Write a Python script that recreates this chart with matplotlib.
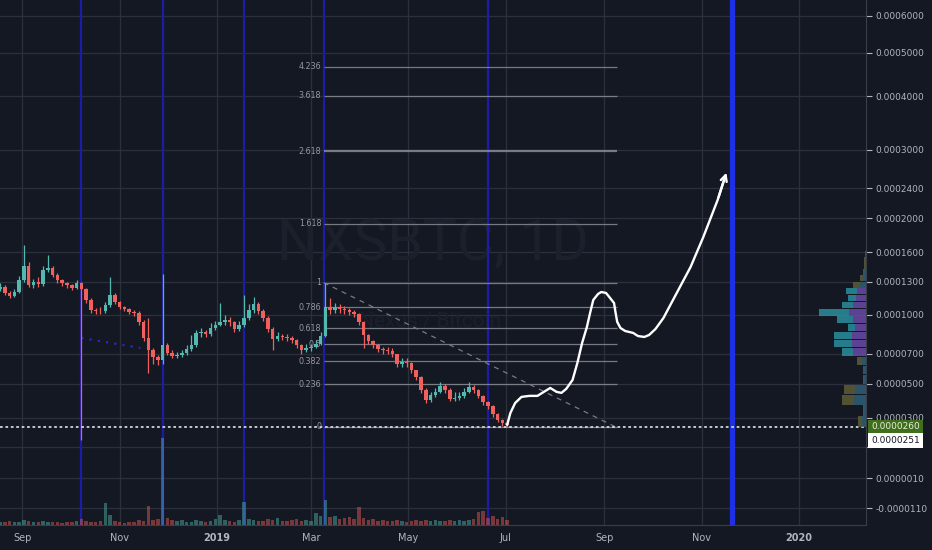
import numpy as np
import pandas as pd
import matplotlib
matplotlib.use('Agg')
import matplotlib.pyplot as plt
import matplotlib.dates as mdates
import matplotlib.transforms as mtrans
from matplotlib.ticker import FixedLocator, FuncFormatter

plt.rcParams['font.family'] = 'DejaVu Sans'

# ---- data (prices in satoshi, 3-day bars) ----
candle_start = '2018-08-18'
first_open = 12300
closes = [12490, 11930, 11660, 12030, 13160, 14560, 12680, 12970, 12780, 14150,
          14350, 13650, 13160, 12870, 12680, 12400, 12870, 12300, 11300, 10420,
          10340, 10300, 10860, 11750, 11120, 10680, 10510, 10250, 10170, 9430,
          8160, 7270, 6780, 6560, 7640, 7060, 6850, 6920, 7060, 7340,
          7640, 8550, 8600, 8470, 8940, 9180, 9430, 9590, 9430, 8860,
          9180, 9750, 10420, 10950, 10340, 9750, 8860, 8080, 8310, 8240,
          8160, 8010, 7640, 7270, 7420, 7490, 7710, 8310, 10680, 10420,
          10680, 10510, 10420, 10250, 10080, 9430, 8390, 7940, 7640, 7340,
          7270, 7200, 6990, 6290, 6420, 6360, 5890, 5430, 4610, 4010,
          4310, 4490, 4860, 4610, 4070, 4130, 4250, 4490, 4800, 4610,
          4250, 3900, 3660, 3210, 2880, 2720, 2620]
highs = [12900, 12700, 12100, 12300, 13500, 16800, 15000, 13300, 13400, 14600,
         15700, 14600, 13800, 13300, 13000, 12800, 13200, 13000, 12400, 11500,
         10600, 10700, 11100, 13400, 11900, 11200, 10800, 10600, 10400, 10300,
         9600, 9750, 7400, 6900, 13700, 7800, 7300, 7100, 7300, 7600,
         8400, 8800, 8900, 8800, 9300, 9500, 11000, 10000, 9800, 9500,
         9500, 11750, 10900, 11600, 11100, 10500, 9900, 9000, 8600, 8500,
         8500, 8300, 8100, 7700, 7700, 7700, 8000, 8600, 12900, 11500,
         11000, 10900, 10800, 10600, 10400, 10200, 9500, 8500, 8000, 7700,
         7500, 7500, 7400, 7000, 6700, 6700, 6400, 5900, 5500, 4700,
         4500, 4700, 5100, 4950, 4700, 4500, 4500, 4700, 5100, 4900,
         4650, 4300, 3950, 3700, 3250, 2950, 2800]
lows = [12100, 11750, 11500, 11550, 11900, 13000, 12500, 12400, 12500, 12600,
        13900, 13400, 12900, 12600, 12400, 12200, 12300, 1850, 11000, 10200,
        10100, 10100, 10200, 10700, 10900, 10500, 10300, 10100, 9900, 9200,
        7900, 5700, 6300, 6200, 6300, 6900, 6700, 6700, 6800, 6900,
        7200, 7500, 8200, 8200, 8300, 8800, 9100, 9200, 9100, 8600,
        8700, 9000, 9600, 10200, 10100, 9500, 8600, 7300, 7900, 8000,
        7900, 7800, 7400, 7000, 7100, 7200, 7400, 7600, 8200, 10100,
        10200, 10200, 10100, 10000, 9800, 9200, 7400, 7700, 7400, 7100,
        7000, 7000, 6800, 6100, 6100, 6100, 5700, 5200, 4400, 3850,
        3900, 4200, 4400, 4400, 3950, 3950, 4000, 4150, 4400, 4400,
        4100, 3700, 3500, 3050, 2750, 2550, 2510]
volumes = [0.3, 0.3, 0.4, 0.3, 0.3, 0.5, 0.4, 0.3, 0.3, 0.4,
           0.3, 0.3, 0.3, 0.2, 0.3, 0.3, 0.4, 0.6, 0.4, 0.3,
           0.3, 0.4, 2.1, 1.0, 0.4, 0.3, 0.2, 0.3, 0.3, 0.5,
           0.4, 1.8, 0.5, 0.6, 8.3, 0.7, 0.5, 0.4, 0.5, 0.3,
           0.3, 0.5, 0.4, 0.3, 0.4, 0.6, 1.0, 0.5, 0.4, 0.3,
           0.5, 2.2, 0.6, 0.5, 0.4, 0.4, 0.6, 0.5, 0.7, 0.4,
           0.4, 0.5, 0.6, 0.4, 0.5, 0.4, 1.1, 0.9, 2.4, 0.8,
           0.9, 0.6, 0.7, 0.8, 0.6, 1.7, 0.7, 0.5, 0.6, 0.4,
           0.5, 0.4, 0.4, 0.5, 0.4, 0.3, 0.4, 0.5, 0.4, 0.5,
           0.4, 0.5, 0.4, 0.4, 0.5, 0.4, 0.5, 0.4, 0.5, 0.6,
           1.2, 1.3, 0.7, 0.9, 0.6, 0.8, 0.5]

# volume profile rows (price centre in sats, volume near axis / further out)
vp_price = [2790, 3410, 4030, 4650, 5270, 5890, 6510, 7130, 7750, 8370, 8990,
            9610, 10230, 10850, 11470, 12090, 12710, 13330, 13950, 14570, 15190, 15810]
vp_inner = [4, 2, 12, 11, 2, 2, 4, 13, 14, 14, 11, 13, 17, 13, 10, 9, 6, 3, 2, 1, 1, 1]
vp_outer = [4, 1, 12, 11, 1, 1, 5, 11, 18, 18, 7, 16, 30, 11, 8, 11, 7, 3, 1, 1, 1, 0]
vp_value_area = (7130, 12090)

# drawings
fib_high, fib_low = 12900, 2510
fib_levels = [0, 0.236, 0.382, 0.5, 0.618, 0.786, 1, 1.618, 2.618, 3.618, 4.236]
fib_dates = ('2019-03-09', '2019-09-09')
trend_dates = ('2019-03-09', '2019-09-08')
cycle_lines = ['2018-10-08', '2018-11-28', '2019-01-18', '2019-03-09', '2019-06-20']
cycle_line_bold = '2019-11-20'
small_line_dates = ('2018-10-08', '2018-11-14')
small_line_prices = (8160, 7420)
proj_dates = ['2019-07-02', '2019-07-04', '2019-07-07', '2019-07-11', '2019-07-16',
              '2019-07-21', '2019-07-25', '2019-07-29', '2019-08-02', '2019-08-05',
              '2019-08-08', '2019-08-12', '2019-08-15', '2019-08-18', '2019-08-21',
              '2019-08-23', '2019-08-25', '2019-08-28', '2019-08-30', '2019-09-02',
              '2019-09-04', '2019-09-07', '2019-09-08', '2019-09-09', '2019-09-11',
              '2019-09-14', '2019-09-19', '2019-09-22', '2019-09-26', '2019-09-29',
              '2019-10-03', '2019-10-08', '2019-10-14', '2019-10-25', '2019-11-02',
              '2019-11-11', '2019-11-15', '2019-11-17']
proj_prices = [2620, 3260, 3830, 4190, 4250, 4250, 4490, 4730, 4490, 4430,
               4670, 5230, 6350, 7790, 9020, 10170, 11300, 11840, 12020, 11930,
               11570, 11030, 10170, 9430, 8940, 8700, 8550, 8310, 8240, 8390,
               8860, 9750, 11300, 14450, 17730, 22390, 25210, 26710]
last_price, prev_price = 2600, 2510

price_ticks = [0.0006, 0.0005, 0.0004, 0.0003, 0.00024, 0.0002, 0.00016, 0.00013,
               0.0001, 0.00007, 0.00005, 0.00003, 0.000015, 0.000001, -0.000011]
hidden_ticks = [0.000015]
month_ticks = ['2018-09-01', '2018-11-01', '2019-01-01', '2019-03-01', '2019-05-01',
               '2019-07-01', '2019-09-01', '2019-11-01', '2020-01-01']
month_labels = ['Sep', 'Nov', '2019', 'Mar', 'May', 'Jul', 'Sep', 'Nov', '2020']

SAT = 1e-8
BG = '#141823'
GRID = '#2c303c'
TXT = '#b2b5be'
UP, DOWN = '#53b8b0', '#f0605c'

# ---- price scale similar to TradingView's ----
SHIFT = 1e-4
def fwd(p):
    return np.log10(np.clip(np.asarray(p, dtype=float) + SHIFT, 1e-9, None))
def inv(v):
    return 10.0 ** np.asarray(v, dtype=float) - SHIFT

def price_fmt(v, pos):
    if any(abs(v - t) < 1e-10 for t in hidden_ticks):
        return ''
    return f'{v:.7f}'

fig = plt.figure(figsize=(9.32, 5.5), dpi=100, facecolor=BG)
rect = [0, 25 / 550, 866 / 932, 525 / 550]
ax = fig.add_axes(rect, facecolor=BG)
ax.set_yscale('function', functions=(fwd, inv))

dates = pd.date_range(candle_start, periods=len(closes), freq='3D')
xd = mdates.date2num(dates)
c = np.array(closes) * SAT
o = np.array([first_open] + closes[:-1]) * SAT
h = np.array(highs) * SAT
l = np.array(lows) * SAT
col = [UP if cc >= oo else DOWN for cc, oo in zip(c, o)]

ax.vlines(xd, l, h, colors=col, lw=0.9, zorder=4)
ax.bar(xd, c - o, bottom=o, width=2.2, color=col, lw=0, zorder=4)

# axes / grid
ax.yaxis.set_major_locator(FixedLocator(price_ticks))
ax.yaxis.set_major_formatter(FuncFormatter(price_fmt))
ax.yaxis.tick_right()
ax.tick_params(axis='y', colors=TXT, labelsize=6.5, length=4, width=0.8, pad=3)
xt = mdates.date2num(pd.to_datetime(month_ticks))
ax.set_xticks(xt)
ax.set_xticklabels(month_labels)
for lab in ax.get_xticklabels():
    if lab.get_text().startswith('20'):
        lab.set_fontweight('bold')
ax.tick_params(axis='x', colors=TXT, labelsize=7, length=0, pad=6)
ax.grid(True, color=GRID, lw=0.9, zorder=0)
ax.set_axisbelow(True)
for s in ['top', 'left']:
    ax.spines[s].set_visible(False)
for s in ['right', 'bottom']:
    ax.spines[s].set_color('#3a3e4a')

ax.set_xlim(mdates.date2num(pd.Timestamp('2018-08-18')), mdates.date2num(pd.Timestamp('2020-02-12')))
ax.set_ylim(-0.00001704, 0.00064834)

# watermark
wm_font = ['Roboto', 'DejaVu Sans']
ax.text(0.5, 0.535, 'NXSBTC, 1D', transform=ax.transAxes, ha='center', va='center',
        fontsize=41, color='#1c202c', zorder=1, family=wm_font)
ax.text(0.497, 0.387, 'Nexus / Bitcoin', transform=ax.transAxes, ha='center', va='center',
        fontsize=15, color='#1c202c', zorder=1, family=wm_font)

# vertical cycle lines
for d in cycle_lines:
    ax.axvline(mdates.date2num(pd.Timestamp(d)), color='#1c1ca6', lw=1.6, zorder=2)
ax.axvline(mdates.date2num(pd.Timestamp(cycle_line_bold)), color='#1f2fe6', lw=3.8, zorder=2)

# small blue dotted line
ax.plot(mdates.date2num(pd.to_datetime(list(small_line_dates))),
        np.array(small_line_prices) * SAT, color='#2a2ad8', lw=1.5, ls=(0, (1, 3)), zorder=3)

# fibonacci
fx0, fx1 = mdates.date2num(pd.to_datetime(list(fib_dates)))
rng = (fib_high - fib_low) * SAT
for lv in fib_levels:
    pr = fib_low * SAT + lv * rng
    ax.hlines(pr, fx0, fx1, color='#8f929b', lw=1.6 if lv == 2.618 else 0.9,
              alpha=0.8, zorder=3)
    ax.text(fx0 - 1.5, pr, f'{lv:g}', ha='right', va='center', fontsize=5.8,
            color='#9598a1', zorder=3)
tx = mdates.date2num(pd.to_datetime(list(trend_dates)))
ax.plot(tx, [fib_high * SAT, fib_low * SAT], color='#787b86', lw=0.9, ls=(0, (4, 4)), zorder=3)

# projection
px = mdates.date2num(pd.to_datetime(proj_dates))
py = np.array(proj_prices) * SAT
ax.plot(px[:-1], py[:-1], color='white', lw=1.7, zorder=6,
        solid_capstyle='round', solid_joinstyle='round')
ax.annotate('', xy=(px[-1], py[-1]), xytext=(px[-3], py[-3]),
            arrowprops=dict(arrowstyle='->', color='white', lw=1.7,
                            mutation_scale=11), zorder=6)

# price line + labels
ax.axhline(prev_price * SAT, color='#d1d4dc', lw=1.3, ls=(0, (1.5, 1.5)), zorder=5)
bt = mtrans.blended_transform_factory(ax.transAxes, ax.transData)
ax.text(1.006, prev_price * SAT, f'{last_price * SAT:.7f}', transform=bt, ha='left',
        va='center', fontsize=6.5, color='#e8f0d8', zorder=10, clip_on=False,
        bbox=dict(boxstyle='square,pad=0.32', fc='#3f6e1c', ec='none'))
ax.annotate(f'{prev_price * SAT:.7f}', xy=(1.006, prev_price * SAT), xycoords=bt,
            xytext=(0, -9.8), textcoords='offset points', ha='left', va='center',
            fontsize=6.5, color='#131722', zorder=10, annotation_clip=False,
            bbox=dict(boxstyle='square,pad=0.32', fc='white', ec='none'))

# volume overlay
vax = fig.add_axes(rect, sharex=ax)
vax.patch.set_visible(False)
vax.bar(xd, volumes, width=2.2, color=col, alpha=0.45, lw=0)
vax.set_ylim(0, 50)
vax.axis('off')

# volume profile
pax = fig.add_axes([760 / 932, rect[1], 106 / 932, rect[3]])
pax.patch.set_visible(False)
pax.set_yscale('function', functions=(fwd, inv))
pax.set_ylim(ax.get_ylim())
for pr, a, b in zip(vp_price, vp_inner, vp_outer):
    in_va = vp_value_area[0] <= pr <= vp_value_area[1]
    c_in = '#6a4aa8' if in_va else '#2f5f76'
    c_out = '#2a8f9e' if in_va else '#5e5c34'
    pax.barh(pr * SAT, a, height=580 * SAT, left=0, color=c_in, alpha=0.85, lw=0)
    pax.barh(pr * SAT, b, height=580 * SAT, left=a, color=c_out, alpha=0.85, lw=0)
pax.set_xlim(106, 0)
pax.axis('off')

fig.savefig('out.png', dpi=100, facecolor=BG)
